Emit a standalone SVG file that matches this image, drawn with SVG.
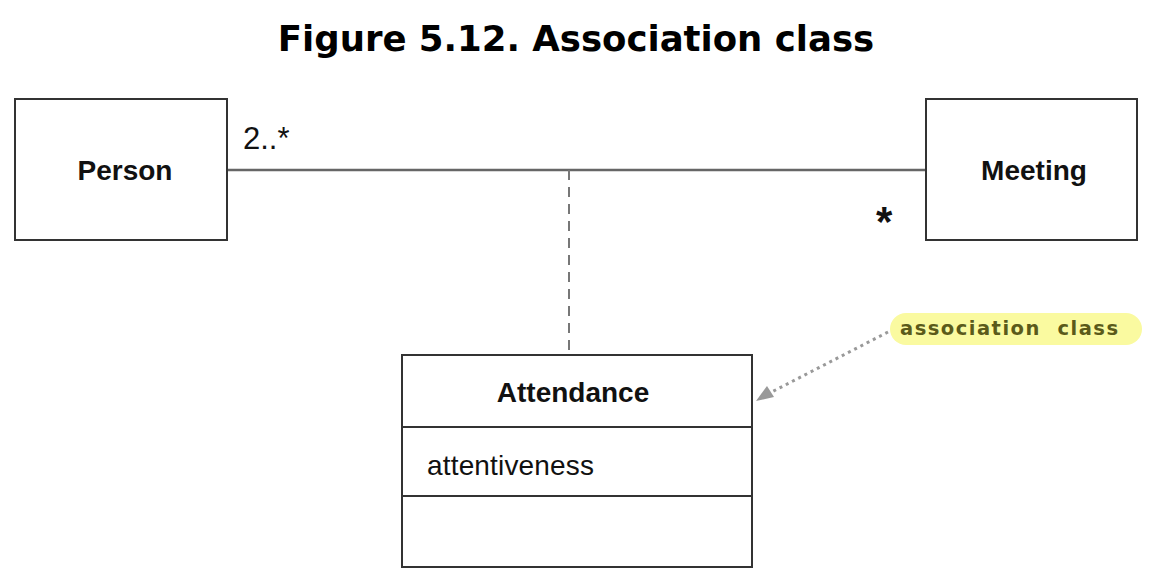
<svg xmlns="http://www.w3.org/2000/svg" width="1174" height="582" viewBox="0 0 1174 582">
<style>
.box{fill:#fff;stroke:#333;stroke-width:2}
.lbl{font-family:"Liberation Sans",Arial,sans-serif;fill:#111}
.b{font-weight:bold}
</style>
<rect width="1174" height="582" fill="#fff"/>
<text x="576" y="51" text-anchor="middle" font-family="DejaVu Sans,Verdana,sans-serif" font-weight="bold" font-size="35.5" fill="#000">Figure 5.12. Association class</text>
<g id="connectors">
<line x1="227" y1="170" x2="926" y2="170" stroke="#666" stroke-width="2.5"/>
<line x1="569" y1="170" x2="569" y2="355" stroke="#777" stroke-width="2" stroke-dasharray="10,7"/>
<line x1="888" y1="332" x2="764" y2="396" stroke="#999" stroke-width="3" stroke-dasharray="3,4"/>
<path d="M756,401 L767,386 L774,397 z" fill="#999"/>
<text class="lbl" x="243" y="149" font-size="31">2..*</text>
<text class="lbl b" x="876" y="236" font-size="42">*</text>
</g>
<g id="person">
<rect class="box" x="15" y="99" width="212" height="141"/>
<text class="lbl b" x="125" y="180" text-anchor="middle" font-size="28">Person</text>
</g>
<g id="meeting">
<rect class="box" x="926" y="99" width="211" height="141"/>
<text class="lbl b" x="1034" y="180" text-anchor="middle" font-size="28">Meeting</text>
</g>
<g id="attendance">
<rect class="box" x="402" y="355" width="350" height="212"/>
<line x1="402" y1="427" x2="752" y2="427" stroke="#333" stroke-width="2"/>
<line x1="402" y1="496" x2="752" y2="496" stroke="#333" stroke-width="2"/>
<text class="lbl b" x="573" y="402" text-anchor="middle" font-size="28">Attendance</text>
<text class="lbl" x="427" y="475" font-size="28" textLength="167">attentiveness</text>
</g>
<g id="note">
<rect x="890" y="313" width="252" height="32" rx="16" fill="#fafaa0"/>
<text x="900" y="335" font-family="DejaVu Sans,Verdana,sans-serif" font-weight="bold" font-size="19.5" fill="#5a5a1a" textLength="218" lengthAdjust="spacing" xml:space="preserve">association  class</text>
</g>
</svg>
